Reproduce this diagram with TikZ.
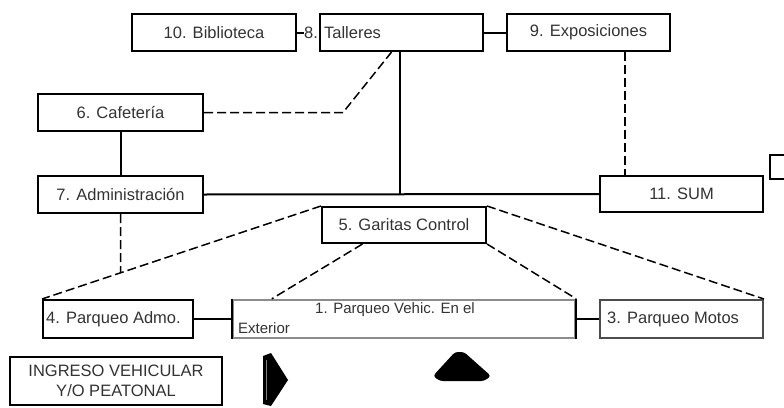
\documentclass[tikz,border=0pt]{standalone}
\usepackage{fontspec}
\setmainfont{Liberation Sans}
\usetikzlibrary{calc}
\begin{document}
\begin{tikzpicture}[x=1pt,y=-1pt,
  box/.style={draw=black, line width=2pt, inner sep=0pt, minimum height=37pt,
    font=\fontsize{16.5}{19}\selectfont, text=black!80},
  lbl/.style={inner sep=0pt, font=\fontsize{16.5}{19}\selectfont, text=black!80},
  link/.style={line width=2pt},
  dlink/.style={line width=1.5pt, dash pattern=on 9pt off 4pt}]
\useasboundingbox (0,0) rectangle (784,407);
% boxes
\node[box, minimum width=164pt] (bib) at (214,32.5) {10. Biblioteca};
\node[box, minimum width=163pt] (tal) at (401.5,32.5) {};
\node[lbl, anchor=west] (talt) at (304,32.5) {8. Talleres};
\node[box, minimum width=163pt] (expo) at (588.5,32.5) {9. Exposiciones};
\node[box, minimum width=165pt] (caf) at (120.5,112.5) {6. Cafetería};
\node[box, minimum width=165pt] (adm) at (120.5,194.5) {7. Administración};
\node[box, minimum width=163pt, minimum height=36pt] (sum) at (681.5,194) {11. SUM};
\node[box, minimum width=164pt, minimum height=36pt] (gar) at (404,225) {5. Garitas Control};
\node[box, minimum width=150pt, minimum height=38pt] (p4) at (118,319) {};
\node[lbl, anchor=west] (p4t) at (46,319) {4. Parqueo Admo.};
\node[box, draw=black!45, line width=2.4pt, minimum width=342pt, minimum height=38pt] (p1) at (404,319) {};
\node[lbl, anchor=north west, align=left, font=\fontsize{15}{20}\selectfont] (p1t) at (238,302) {\hspace*{77pt}1. Parqueo Vehic. En el\\Exterior};
\node[box, draw=black!70, minimum width=163pt, minimum height=38pt] (p3) at (681.5,319) {};
\node[lbl, anchor=west] (p3t) at (607,319) {3. Parqueo Motos};
\node[box, minimum width=212pt, minimum height=48pt, align=center,
  font=\fontsize{16.5}{20}\selectfont] (ing) at (116,381) {INGRESO VEHICULAR\\Y/O PEATONAL};
% black sides of p1
\draw[link] (p1.north west) -- (p1.south west);
\draw[link] (p1.north east) -- (p1.south east);
% partial box at right edge
\draw[link] (790,155) -| (770,179) -- (790,179);
% solid connectors
\draw[link] (bib.east) -- (talt.west);
\draw[link] (tal.east) -- (expo.west);
\draw[link] (caf.south) -- (adm.north);
\draw[link] (adm.east) -- (sum.west);
\coordinate (tv) at ($(tal.south west)!0.49!(tal.south east)$);
\draw[link] (tv) -- (tv |- adm.east);
\draw[link] (p4.east) -- (p1.west);
\draw[link] (p1.east) -- (p3.west);
% dashed connectors
\coordinate (cb) at (343,112.5);
\coordinate (td) at ($(tal.south west)!0.44!(tal.south east)$);
\draw[dlink] (caf.east) -- (cb) -- (td);
\coordinate (es) at ($(sum.north west)+(26pt,0)$);
\draw[dlink] (es |- expo.south) -- (es);
\draw[dlink] (gar.north west) -- (p4.north west);
\coordinate (aj) at (intersection of gar.north west--p4.north west and adm.south--adm.center);
\draw[dlink] (adm.south) -- (aj);
\coordinate (gl) at ($(gar.south west)!0.25!(gar.south east)$);
\coordinate (pl) at ($(p1.north west)+(40pt,0)$);
\draw[dlink] (gl) -- (pl);
\draw[dlink] (gar.south east) -- (p1.north east);
\draw[dlink] (gar.north east) -- (p3.north east);
% arrows
\fill[black] (263,356) -- (271,353) -- (288,380) -- (271,406) -- (263,404) -- cycle;
\draw[black!50, line width=1.5pt] (266.5,360) -- (266.5,400);
\fill[black, rounded corners=3pt] (433,376) -- (455,352) -- (464,352) -- (491,376) -- (484,381) -- (440,381) -- cycle;
\end{tikzpicture}
\end{document}
